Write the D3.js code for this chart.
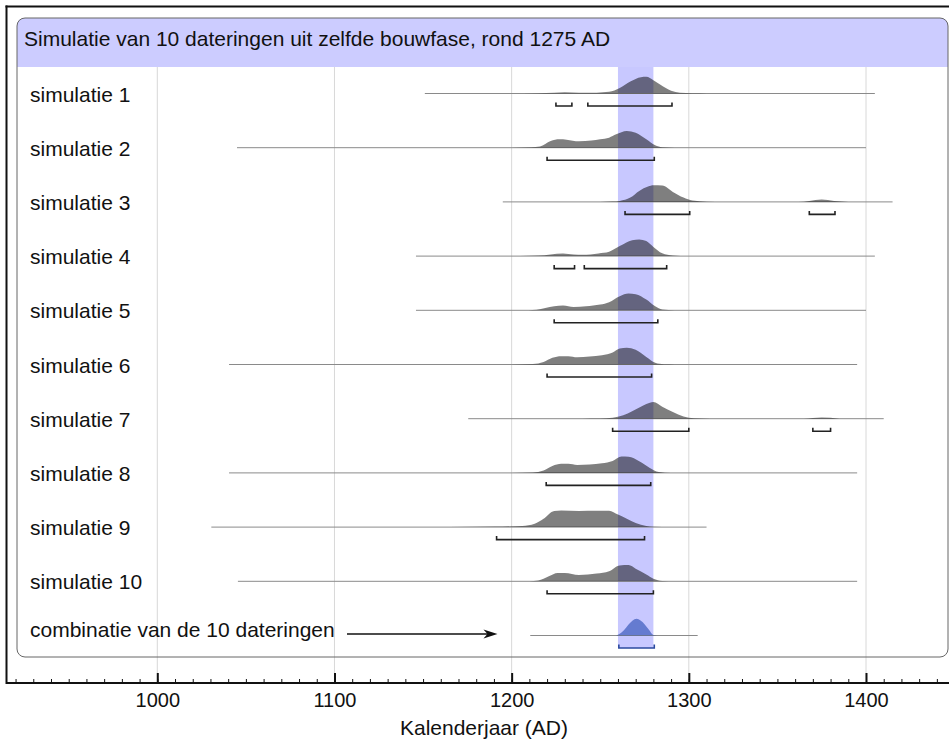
<!DOCTYPE html>
<html>
<head>
<meta charset="utf-8">
<script src="https://cdn.jsdelivr.net/npm/d3@7"></script>
<style>
  html, body { margin: 0; padding: 0; background: #fff; }
  svg { display: block; font-family: Arial, "Liberation Sans", Helvetica, sans-serif; }
</style>
</head>
<body>
<svg id="chart" width="949" height="743"></svg>
<script>
// ---------- data ----------
const title = "Simulatie van 10 dateringen uit zelfde bouwfase, rond 1275 AD";
const labels = ["simulatie 1","simulatie 2","simulatie 3","simulatie 4","simulatie 5",
  "simulatie 6","simulatie 7","simulatie 8","simulatie 9","simulatie 10",
  "combinatie van de 10 dateringen"];
const spanFrom = [1151,1045,1195,1146,1146,1040.5,1175.5,1040.5,1030.5,1045.5,1210.5];
const spanTo   = [1405,1400,1415,1405,1400,1395,1410,1395,1310,1395,1305];
const ranges = [
  [[1225,1234],[1243,1290.5]],
  [[1220,1280.5]],
  [[1264,1300.5],[1368,1382.5]],
  [[1224,1235.5],[1241,1287.5]],
  [[1224,1282.5]],
  [[1220,1279]],
  [[1257,1300],[1370,1380]],
  [[1219.5,1278.5]],
  [[1191.5,1275]],
  [[1220,1280]],
  [[1260.5,1280.5]]
];
const dens1 = [[1180,0],[1215,0.02],[1224,0.05],[1230,0.07],[1238,0.04],[1248,0.05],[1255,0.1],[1261,0.33],[1267,0.72],[1273,0.98],[1276,1.0],[1280,0.8],[1284,0.52],[1290,0.16],[1295,0.04],[1302,0.01],[1310,0]];
const dens2 = [[1200,0],[1211,0.02],[1216,0.07],[1222,0.4],[1227,0.5],[1231,0.48],[1238,0.38],[1245,0.43],[1250,0.5],[1255,0.6],[1259,0.8],[1265,1.0],[1270,0.9],[1276,0.5],[1281,0.14],[1285,0.02],[1292,0]];
const dens3 = [[1250,0],[1257,0.02],[1261,0.06],[1267,0.26],[1272,0.66],[1277,0.92],[1280,1.0],[1285,0.98],[1291,0.6],[1297,0.26],[1302,0.08],[1310,0.01],[1320,0],[1362,0],[1368,0.06],[1375,0.15],[1382,0.06],[1390,0]];
const dens4 = [[1205,0],[1215,0.03],[1222,0.1],[1229,0.16],[1235,0.1],[1240,0.08],[1249,0.16],[1255,0.26],[1261,0.6],[1268,0.95],[1272,1.0],[1276,0.9],[1280,0.55],[1285,0.17],[1291,0.04],[1300,0]];
const dens5 = [[1205,0],[1214,0.04],[1219,0.14],[1224,0.24],[1229,0.28],[1235,0.2],[1242,0.24],[1250,0.34],[1255,0.48],[1261,0.84],[1266,1.0],[1270,0.96],[1276,0.64],[1281,0.24],[1285,0.05],[1292,0]];
const dens6 = [[1200,0],[1212,0.03],[1218,0.15],[1223,0.4],[1228,0.5],[1232,0.5],[1237,0.43],[1244,0.48],[1251,0.56],[1257,0.72],[1261,0.96],[1265,1.0],[1270,0.88],[1276,0.45],[1281,0.1],[1286,0.01],[1292,0]];
const dens7 = [[1240,0],[1250,0.01],[1257,0.06],[1263,0.2],[1268,0.45],[1274,0.78],[1278,0.95],[1280,1.0],[1285,0.72],[1291,0.4],[1297,0.13],[1303,0.02],[1312,0],[1365,0],[1375,0.07],[1385,0]];
const dens8 = [[1200,0],[1212,0.03],[1218,0.15],[1223,0.42],[1228,0.55],[1232,0.55],[1237,0.48],[1244,0.5],[1251,0.58],[1257,0.72],[1262,0.98],[1266,0.97],[1272,0.7],[1278,0.3],[1283,0.06],[1290,0]];
const dens9 = [[1150,0],[1165,0.01],[1191,0.03],[1206,0.07],[1213,0.2],[1218,0.5],[1224,0.97],[1228,1.0],[1238,0.97],[1248,0.98],[1255,0.98],[1260,0.75],[1265,0.5],[1270,0.25],[1276,0.07],[1280,0.02],[1290,0]];
const dens10 = [[1200,0],[1210,0.01],[1215,0.05],[1221,0.3],[1226,0.5],[1230,0.5],[1238,0.38],[1248,0.46],[1255,0.6],[1261,0.95],[1266,0.97],[1270,0.75],[1276,0.4],[1280,0.15],[1285,0.02],[1292,0]];
const densComb = [[1259,0],[1261,0.1],[1270.5,1.0],[1275,0.68],[1277.5,0.35],[1280,0.03],[1282,0]];
const densities = [dens1,dens2,dens3,dens4,dens5,dens6,dens7,dens8,dens9,dens10,densComb];
const band = [1260, 1280];
const majorTicks = [1000,1100,1200,1300,1400];
const minorTicks = d3.range(920, 1450, 10);
const xTitle = "Kalenderjaar (AD)";
const arrowEndYear = 1192;

// ---------- layout ----------
const svg = d3.select("#chart");
const x = d3.scaleLinear().domain([1000,1400]).range([157.3,866]);
const y = d3.scalePoint().domain(labels).range([93.5, 635.5]);
const h = d3.scaleLinear().domain([0,1]).range([0,16.7]);
const axisY = 683;
const boxL = 17, boxR = 948, boxT = 18, boxB = 657, headB = 67, r = 8;

svg.append("rect").attr("width",949).attr("height",743).attr("fill","#fff");

// header fill
svg.append("path")
  .attr("d", `M${boxL},${headB} V${boxT+r} Q${boxL},${boxT} ${boxL+r},${boxT} H${boxR-r} Q${boxR},${boxT} ${boxR},${boxT+r} V${headB} Z`)
  .attr("fill","#ccccff");

// gridlines
svg.append("g").selectAll("line").data(majorTicks).join("line")
  .attr("x1",d=>x(d)).attr("x2",d=>x(d))
  .attr("y1",headB).attr("y2",axisY)
  .attr("stroke","#d8d8d8").attr("stroke-width",1);

// highlight band
const combY = y(labels[labels.length-1]);
svg.append("rect")
  .attr("x", x(band[0])).attr("width", x(band[1])-x(band[0]))
  .attr("y", headB).attr("height", combY + 12.5 - headB)
  .attr("fill","#c8c8ff");

// rounded box outline
svg.append("rect")
  .attr("x",boxL).attr("y",boxT).attr("width",boxR-boxL).attr("height",boxB-boxT)
  .attr("rx",r).attr("ry",r).attr("fill","none").attr("stroke","#666").attr("stroke-width",1);

svg.append("text").attr("x",24).attr("y",46).attr("font-size",21).attr("fill","#111").text(title);

// rows
const area = d3.area().curve(d3.curveMonotoneX);
labels.forEach((lab,i) => {
  const yy = y(lab);
  const isComb = i === labels.length-1;
  svg.append("line")
    .attr("x1",x(spanFrom[i])).attr("x2",x(spanTo[i]))
    .attr("y1",yy).attr("y2",yy)
    .attr("stroke","#8a8a8a").attr("stroke-width",1);
  area.x(d=>x(d[0])).y0(yy).y1(d=>yy-h(d[1]));
  svg.append("path").attr("d", area(densities[i]))
    .attr("fill", isComb ? "rgba(20,60,170,0.55)" : "rgba(0,0,0,0.5)");
  const by = yy + 12.5;
  ranges[i].forEach(rg => {
    svg.append("path")
      .attr("d", `M${x(rg[0])},${by-3.5} V${by} H${x(rg[1])} V${by-3.5}`)
      .attr("fill","none").attr("stroke", isComb ? "#2b4aa0" : "#222").attr("stroke-width",1.6);
  });
  svg.append("text").attr("x",30).attr("y", isComb ? yy+1 : yy+8)
    .attr("font-size",21).attr("fill","#111").text(lab);
});

// arrow for combination row
const arrX0 = 347, arrX1 = x(arrowEndYear), arrY = combY - 1.5;
svg.append("line").attr("x1",arrX0).attr("x2",arrX1-6).attr("y1",arrY).attr("y2",arrY)
  .attr("stroke","#111").attr("stroke-width",1.6);
svg.append("path")
  .attr("d",`M${arrX1},${arrY} L${arrX1-14},${arrY-4.5} L${arrX1-10},${arrY} L${arrX1-14},${arrY+4.5} Z`)
  .attr("fill","#111");

// axis
const gAxis = svg.append("g").attr("transform",`translate(0,${axisY})`);
gAxis.call(d3.axisBottom(x).tickValues(minorTicks).tickSize(-4).tickFormat(""))
  .call(g=>g.select(".domain").remove());
gAxis.selectAll(".tick line").attr("stroke","#111").attr("stroke-width",1);
const gMaj = svg.append("g").attr("transform",`translate(0,${axisY})`);
gMaj.call(d3.axisBottom(x).tickValues(majorTicks).tickSize(-10).tickPadding(10).tickFormat(d3.format("d")))
  .call(g=>g.select(".domain").remove());
gMaj.selectAll(".tick line").attr("stroke","#111").attr("stroke-width",2);
gMaj.selectAll(".tick text").attr("font-size",20).attr("fill","#111")
  .attr("font-family","Arial, 'Liberation Sans', sans-serif");

// frame lines
svg.append("line").attr("x1",6).attr("x2",949).attr("y1",axisY).attr("y2",axisY).attr("stroke","#111").attr("stroke-width",2);
svg.append("line").attr("x1",6.5).attr("x2",6.5).attr("y1",5.5).attr("y2",axisY+1).attr("stroke","#111").attr("stroke-width",2);
svg.append("line").attr("x1",5.5).attr("x2",949).attr("y1",6.5).attr("y2",6.5).attr("stroke","#111").attr("stroke-width",2);

svg.append("text").attr("x",484).attr("y",735).attr("text-anchor","middle")
  .attr("font-size",21).attr("fill","#111").text(xTitle);
</script>
</body>
</html>
